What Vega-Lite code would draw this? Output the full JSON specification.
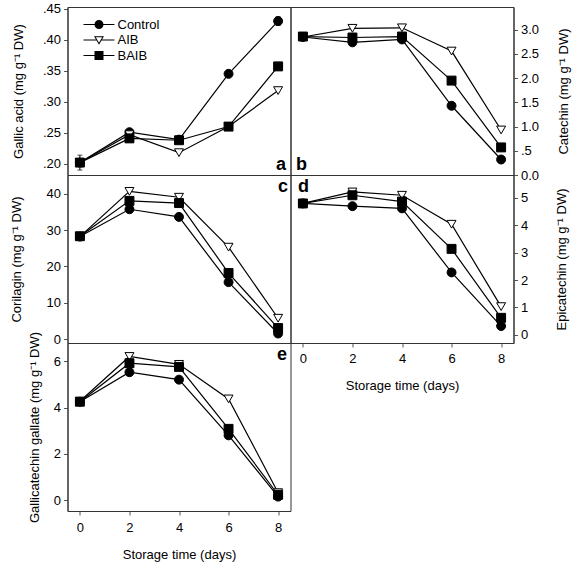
{
  "$schema": "https://vega.github.io/schema/vega-lite/v6.json",
  "padding": {"left": 9.5, "top": 2, "right": 2, "bottom": 2},
  "background": "white",
  "data": {"values": [
    {"p":"a","day":0,"trt":"Control","v":0.202,"lo":0.190,"hi":0.214},
    {"p":"a","day":2,"trt":"Control","v":0.251},
    {"p":"a","day":4,"trt":"Control","v":0.239},
    {"p":"a","day":6,"trt":"Control","v":0.345},
    {"p":"a","day":8,"trt":"Control","v":0.430,"lo":0.423,"hi":0.437},
    {"p":"a","day":0,"trt":"AIB","v":0.202},
    {"p":"a","day":2,"trt":"AIB","v":0.247},
    {"p":"a","day":4,"trt":"AIB","v":0.218},
    {"p":"a","day":6,"trt":"AIB","v":0.260},
    {"p":"a","day":8,"trt":"AIB","v":0.318},
    {"p":"a","day":0,"trt":"BAIB","v":0.202},
    {"p":"a","day":2,"trt":"BAIB","v":0.241},
    {"p":"a","day":4,"trt":"BAIB","v":0.238},
    {"p":"a","day":6,"trt":"BAIB","v":0.260},
    {"p":"a","day":8,"trt":"BAIB","v":0.357},
    {"p":"b","day":0,"trt":"Control","v":2.85},
    {"p":"b","day":2,"trt":"Control","v":2.74},
    {"p":"b","day":4,"trt":"Control","v":2.80},
    {"p":"b","day":6,"trt":"Control","v":1.43},
    {"p":"b","day":8,"trt":"Control","v":0.32},
    {"p":"b","day":0,"trt":"AIB","v":2.85},
    {"p":"b","day":2,"trt":"AIB","v":3.03},
    {"p":"b","day":4,"trt":"AIB","v":3.04},
    {"p":"b","day":6,"trt":"AIB","v":2.56},
    {"p":"b","day":8,"trt":"AIB","v":0.93},
    {"p":"b","day":0,"trt":"BAIB","v":2.86},
    {"p":"b","day":2,"trt":"BAIB","v":2.84},
    {"p":"b","day":4,"trt":"BAIB","v":2.86},
    {"p":"b","day":6,"trt":"BAIB","v":1.95},
    {"p":"b","day":8,"trt":"BAIB","v":0.57},
    {"p":"c","day":0,"trt":"Control","v":28.2},
    {"p":"c","day":2,"trt":"Control","v":35.7},
    {"p":"c","day":4,"trt":"Control","v":33.6},
    {"p":"c","day":6,"trt":"Control","v":15.7},
    {"p":"c","day":8,"trt":"Control","v":1.6},
    {"p":"c","day":0,"trt":"AIB","v":28.2},
    {"p":"c","day":2,"trt":"AIB","v":40.6},
    {"p":"c","day":4,"trt":"AIB","v":39.0},
    {"p":"c","day":6,"trt":"AIB","v":25.3},
    {"p":"c","day":8,"trt":"AIB","v":5.8},
    {"p":"c","day":0,"trt":"BAIB","v":28.3},
    {"p":"c","day":2,"trt":"BAIB","v":38.0},
    {"p":"c","day":4,"trt":"BAIB","v":37.4},
    {"p":"c","day":6,"trt":"BAIB","v":18.2},
    {"p":"c","day":8,"trt":"BAIB","v":3.1},
    {"p":"d","day":0,"trt":"Control","v":4.80},
    {"p":"d","day":2,"trt":"Control","v":4.70},
    {"p":"d","day":4,"trt":"Control","v":4.62},
    {"p":"d","day":6,"trt":"Control","v":2.28},
    {"p":"d","day":8,"trt":"Control","v":0.32},
    {"p":"d","day":0,"trt":"AIB","v":4.80},
    {"p":"d","day":2,"trt":"AIB","v":5.22},
    {"p":"d","day":4,"trt":"AIB","v":5.10},
    {"p":"d","day":6,"trt":"AIB","v":4.04},
    {"p":"d","day":8,"trt":"AIB","v":1.03},
    {"p":"d","day":0,"trt":"BAIB","v":4.80},
    {"p":"d","day":2,"trt":"BAIB","v":5.10},
    {"p":"d","day":4,"trt":"BAIB","v":4.87},
    {"p":"d","day":6,"trt":"BAIB","v":3.14},
    {"p":"d","day":8,"trt":"BAIB","v":0.62},
    {"p":"e","day":0,"trt":"Control","v":4.25},
    {"p":"e","day":2,"trt":"Control","v":5.52},
    {"p":"e","day":4,"trt":"Control","v":5.20},
    {"p":"e","day":6,"trt":"Control","v":2.80},
    {"p":"e","day":8,"trt":"Control","v":0.16},
    {"p":"e","day":0,"trt":"AIB","v":4.27},
    {"p":"e","day":2,"trt":"AIB","v":6.20},
    {"p":"e","day":4,"trt":"AIB","v":5.86},
    {"p":"e","day":6,"trt":"AIB","v":4.37},
    {"p":"e","day":8,"trt":"AIB","v":0.33},
    {"p":"e","day":0,"trt":"BAIB","v":4.25},
    {"p":"e","day":2,"trt":"BAIB","v":5.91},
    {"p":"e","day":4,"trt":"BAIB","v":5.75},
    {"p":"e","day":6,"trt":"BAIB","v":3.08},
    {"p":"e","day":8,"trt":"BAIB","v":0.24}
  ]},
  "columns": 2,
  "spacing": 0,
  "bounds": "flush",
  "resolve": {"scale": {"shape": "independent", "fill": "independent"}, "legend": {"shape": "independent", "fill": "independent"}},
  "concat": [
    {
      "width": 223, "height": 168,
      "transform": [{"filter": "datum.p == 'a'"}],
      "encoding": {
        "x": {"field": "day", "type": "quantitative", "scale": {"domain": [-0.5, 8.5], "nice": false, "zero": false}, "axis": null},
        "y": {"field": "v", "type": "quantitative", "scale": {"domain": [0.182, 0.4527], "nice": false, "zero": false},
              "axis": {"title": "Gallic acid (mg g⁻¹ DW)", "values": [0.2, 0.25, 0.3, 0.35, 0.4, 0.45], "labelExpr": "replace(format(datum.value, '.2f'), '0.', '.')", "titlePadding": 17}}
      },
      "resolve": {"scale": {"shape": "independent"}},
      "layer": [
        {"mark": {"type": "line", "color": "black", "strokeWidth": 1.2}, "encoding": {"detail": {"field": "trt"}}},
        {"transform": [{"filter": "isValid(datum.lo)"}],
         "mark": {"type": "errorbar", "ticks": true, "color": "black"},
         "encoding": {"y": {"field": "lo", "type": "quantitative", "title": "Gallic acid (mg g⁻¹ DW)"}, "y2": {"field": "hi"}}},
        {"mark": {"type": "point", "filled": true, "stroke": "black", "strokeWidth": 1, "size": 80, "opacity": 1},
         "encoding": {
           "shape": {"field": "trt", "type": "nominal", "scale": {"domain": ["Control", "AIB", "BAIB"], "range": ["circle", "triangle-down", "square"]}, "legend": null},
           "fill": {"field": "trt", "type": "nominal", "scale": {"domain": ["Control", "AIB", "BAIB"], "range": ["black", "white", "black"]}, "legend": null}
         }},
        {"transform": [{"filter": "datum.trt == 'none'"}],
         "mark": {"type": "point", "filled": true, "color": "black", "opacity": 1, "size": 81},
         "encoding": {
           "shape": {"field": "trt", "type": "nominal",
             "scale": {"domain": ["Control", "AIB", "BAIB"], "range": [
               "M-3.44,-0.12H3.44V0.12H-3.44ZM1,0A1,1,0,1,1,-1,0A1,1,0,1,1,1,0Z",
               "M-3.44,-0.12H-0.45V0.12H-3.44ZM0.45,-0.12H3.44V0.12H0.45ZM-1.1,-0.85L1.1,-0.85L0,1.05ZM-0.718,-0.63L0,0.611L0.718,-0.63Z",
               "M-3.44,-0.12H3.44V0.12H-3.44ZM-1,-1H1V1H-1Z"]},
             "legend": {"title": null, "orient": "none", "legendX": 25, "legendY": 11, "padding": 0, "symbolSize": 81, "symbolOpacity": 1, "symbolFillColor": "black", "symbolStrokeWidth": 0, "labelFontSize": 13, "labelOffset": 12, "rowPadding": 1.5}}
         }},
        {"transform": [{"filter": "datum.day == 0 && datum.trt == 'Control'"}],
         "mark": {"type": "text", "fontSize": 18, "fontWeight": "bold", "align": "right", "baseline": "alphabetic", "color": "black"},
         "encoding": {"x": {"datum": 8.32}, "y": {"datum": 0.19}, "text": {"value": "a"}}}
      ]
    },
    {
      "width": 223, "height": 168,
      "transform": [{"filter": "datum.p == 'b'"}],
      "encoding": {
        "x": {"field": "day", "type": "quantitative", "scale": {"domain": [-0.5, 8.5], "nice": false, "zero": false}, "axis": null},
        "y": {"field": "v", "type": "quantitative", "scale": {"domain": [0, 3.47], "nice": false, "zero": false},
              "axis": {"orient": "right", "title": "Catechin (mg g⁻¹ DW)", "values": [0, 0.5, 1, 1.5, 2, 2.5, 3], "labelExpr": "datum.value == 0.5 ? '.5' : format(datum.value, '.1f')", "titleAngle": 270, "titleBaseline": "top", "titlePadding": 19}}
      },
      "layer": [
        {"mark": {"type": "line", "color": "black", "strokeWidth": 1.2}, "encoding": {"detail": {"field": "trt"}}},
        {"mark": {"type": "point", "filled": true, "stroke": "black", "strokeWidth": 1, "size": 80, "opacity": 1},
         "encoding": {
           "shape": {"field": "trt", "type": "nominal", "scale": {"domain": ["Control", "AIB", "BAIB"], "range": ["circle", "triangle-down", "square"]}, "legend": null},
           "fill": {"field": "trt", "type": "nominal", "scale": {"domain": ["Control", "AIB", "BAIB"], "range": ["black", "white", "black"]}, "legend": null}
         }},
        {"transform": [{"filter": "datum.day == 0 && datum.trt == 'Control'"}],
         "mark": {"type": "text", "fontSize": 18, "fontWeight": "bold", "align": "left", "baseline": "alphabetic", "color": "black"},
         "encoding": {"x": {"datum": -0.28}, "y": {"datum": 0.1}, "text": {"value": "b"}}}
      ]
    },
    {
      "width": 223, "height": 168,
      "transform": [{"filter": "datum.p == 'c'"}],
      "encoding": {
        "x": {"field": "day", "type": "quantitative", "scale": {"domain": [-0.5, 8.5], "nice": false, "zero": false}, "axis": null},
        "y": {"field": "v", "type": "quantitative", "scale": {"domain": [-1, 45.1], "nice": false, "zero": false},
              "axis": {"title": "Corilagin (mg g⁻¹ DW)", "values": [0, 10, 20, 30, 40], "titlePadding": 23}}
      },
      "layer": [
        {"mark": {"type": "line", "color": "black", "strokeWidth": 1.2}, "encoding": {"detail": {"field": "trt"}}},
        {"mark": {"type": "point", "filled": true, "stroke": "black", "strokeWidth": 1, "size": 80, "opacity": 1},
         "encoding": {
           "shape": {"field": "trt", "type": "nominal", "scale": {"domain": ["Control", "AIB", "BAIB"], "range": ["circle", "triangle-down", "square"]}, "legend": null},
           "fill": {"field": "trt", "type": "nominal", "scale": {"domain": ["Control", "AIB", "BAIB"], "range": ["black", "white", "black"]}, "legend": null}
         }},
        {"transform": [{"filter": "datum.day == 0 && datum.trt == 'Control'"}],
         "mark": {"type": "text", "fontSize": 18, "fontWeight": "bold", "align": "right", "baseline": "alphabetic", "color": "black"},
         "encoding": {"x": {"datum": 8.4}, "y": {"datum": 40.4}, "text": {"value": "c"}}}
      ]
    },
    {
      "width": 223, "height": 168,
      "transform": [{"filter": "datum.p == 'd'"}],
      "encoding": {
        "x": {"field": "day", "type": "quantitative", "scale": {"domain": [-0.5, 8.5], "nice": false, "zero": false},
              "axis": {"title": "Storage time (days)", "values": [0, 2, 4, 6, 8], "labelPadding": 5, "titlePadding": 14}},
        "y": {"field": "v", "type": "quantitative", "scale": {"domain": [-0.3, 5.84], "nice": false, "zero": false},
              "axis": {"orient": "right", "title": "Epicatechin (mg g⁻¹ DW)", "values": [0, 1, 2, 3, 4, 5], "titleAngle": 270, "titleBaseline": "top", "titlePadding": 28}}
      },
      "layer": [
        {"mark": {"type": "line", "color": "black", "strokeWidth": 1.2}, "encoding": {"detail": {"field": "trt"}}},
        {"mark": {"type": "point", "filled": true, "stroke": "black", "strokeWidth": 1, "size": 80, "opacity": 1},
         "encoding": {
           "shape": {"field": "trt", "type": "nominal", "scale": {"domain": ["Control", "AIB", "BAIB"], "range": ["circle", "triangle-down", "square"]}, "legend": null},
           "fill": {"field": "trt", "type": "nominal", "scale": {"domain": ["Control", "AIB", "BAIB"], "range": ["black", "white", "black"]}, "legend": null}
         }},
        {"transform": [{"filter": "datum.day == 0 && datum.trt == 'Control'"}],
         "mark": {"type": "text", "fontSize": 18, "fontWeight": "bold", "align": "left", "baseline": "alphabetic", "color": "black"},
         "encoding": {"x": {"datum": -0.2}, "y": {"datum": 5.22}, "text": {"value": "d"}}}
      ]
    },
    {
      "width": 223, "height": 168,
      "transform": [{"filter": "datum.p == 'e'"}],
      "encoding": {
        "x": {"field": "day", "type": "quantitative", "scale": {"domain": [-0.5, 8.5], "nice": false, "zero": false},
              "axis": {"title": "Storage time (days)", "values": [0, 2, 4, 6, 8], "labelPadding": 6, "titlePadding": 14}},
        "y": {"field": "v", "type": "quantitative", "scale": {"domain": [-0.46, 6.78], "nice": false, "zero": false},
              "axis": {"title": "Gallicatechin gallate (mg g⁻¹ DW)", "values": [0, 2, 4, 6], "titlePadding": 12}}
      },
      "layer": [
        {"mark": {"type": "line", "color": "black", "strokeWidth": 1.2}, "encoding": {"detail": {"field": "trt"}}},
        {"mark": {"type": "point", "filled": true, "stroke": "black", "strokeWidth": 1, "size": 80, "opacity": 1},
         "encoding": {
           "shape": {"field": "trt", "type": "nominal", "scale": {"domain": ["Control", "AIB", "BAIB"], "range": ["circle", "triangle-down", "square"]}, "legend": null},
           "fill": {"field": "trt", "type": "nominal", "scale": {"domain": ["Control", "AIB", "BAIB"], "range": ["black", "white", "black"]}, "legend": null}
         }},
        {"transform": [{"filter": "datum.day == 0 && datum.trt == 'Control'"}],
         "mark": {"type": "text", "fontSize": 18, "fontWeight": "bold", "align": "right", "baseline": "alphabetic", "color": "black"},
         "encoding": {"x": {"datum": 8.36}, "y": {"datum": 6.03}, "text": {"value": "e"}}}
      ]
    }
  ],
  "config": {
    "font": "Liberation Sans",
    "view": {"stroke": "#333", "strokeWidth": 1},
    "axis": {"labelFontSize": 13, "titleFontSize": 13, "titleFontWeight": "normal", "labelColor": "black", "titleColor": "black", "tickColor": "#555", "domainColor": "#333", "tickSize": 4, "labelPadding": 3, "grid": false},
    "legend": {"labelFont": "Liberation Sans"}
  }
}
